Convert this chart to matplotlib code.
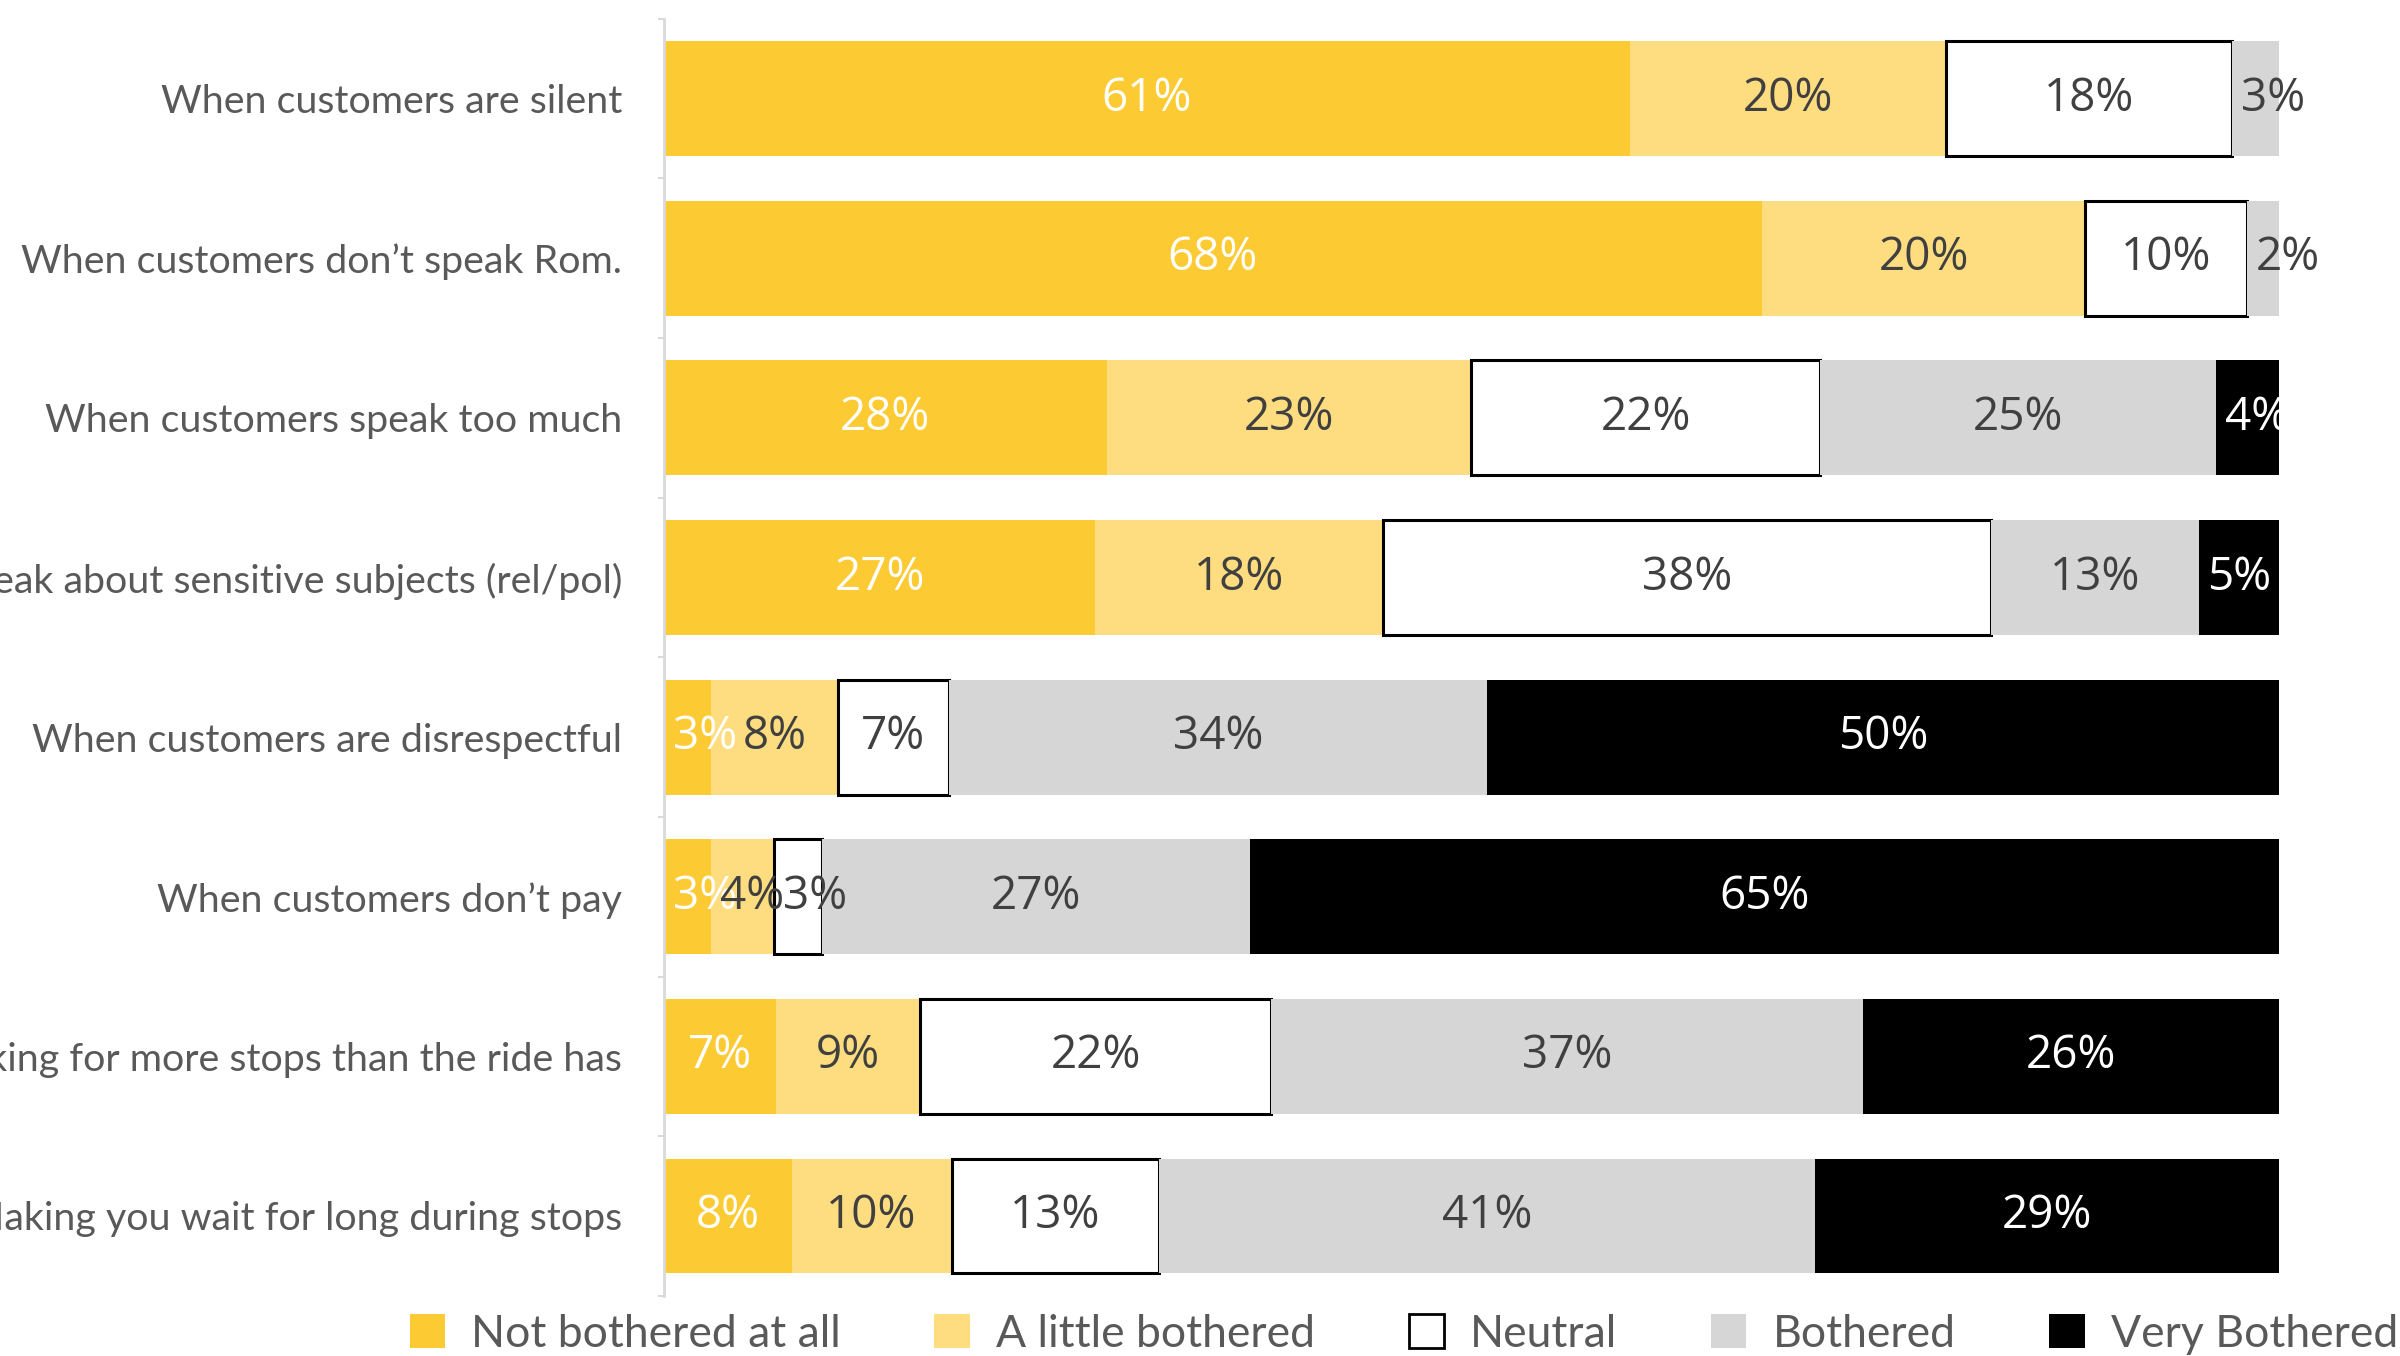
import numpy as np
import matplotlib
matplotlib.use("Agg")
import matplotlib.pyplot as plt
from matplotlib.patches import Patch

# survey results, percent per answer (rows top to bottom)
categories = [
    "When customers are silent",
    "When customers don\u2019t speak Rom.",
    "When customers speak too much",
    "When customers speak about sensitive subjects (rel/pol)",
    "When customers are disrespectful",
    "When customers don\u2019t pay",
    "When customers are asking for more stops than the ride has",
    "When customers are Making you wait for long during stops",
]
answers = ["Not bothered at all", "A little bothered", "Neutral", "Bothered", "Very Bothered"]

not_bothered = [61, 68, 28, 27, 3, 3, 7, 8]
little_bothered = [20, 20, 23, 18, 8, 4, 9, 10]
neutral = [18, 10, 22, 38, 7, 3, 22, 13]
bothered = [3, 2, 25, 13, 34, 27, 37, 41]
very_bothered = [0, 0, 4, 5, 50, 65, 26, 29]

series = [not_bothered, little_bothered, neutral, bothered, very_bothered]
fills = ["#FCCB33", "#FEDD80", "#FFFFFF", "#D6D6D6", "#000000"]
edges = [None, None, "#000000", None, None]
label_colors = ["white", "#404040", "#404040", "#404040", "white"]

LABEL_FONT = "Lato"
NUM_FONT = "Open Sans"

vals = np.array(series, dtype=float)
totals = vals.sum(axis=0)
shares = vals / totals * 100  # 100% stacked

fig = plt.figure(figsize=(24, 13.56), dpi=100)
ax = fig.add_axes([0.2765, 0.0444, 0.9496 - 0.2765, 0.9861 - 0.0444])

y = np.arange(len(categories))
left = np.zeros(len(categories))
value_texts = []
for i, name in enumerate(answers):
    ec = edges[i] if edges[i] else fills[i]
    lw = 2.2 if edges[i] else 0
    ax.barh(y, shares[i], left=left, height=0.72, color=fills[i],
            edgecolor=ec, linewidth=lw, label=name, zorder=2)
    for j in range(len(categories)):
        v = series[i][j]
        if v == 0:
            continue
        t = ax.text(left[j] + shares[i][j] / 2, y[j], f"{v}%", ha="center", va="center",
                    color=label_colors[i], fontsize=33, family=NUM_FONT, zorder=3)
        value_texts.append((t, left[j], shares[i][j]))
    left += shares[i]

ax.set_xlim(0, 100)
ax.set_ylim(len(categories) - 0.5, -0.5)
ax.set_yticks(y)
ax.set_yticklabels(categories, fontsize=28.4, family=LABEL_FONT, color="#595959")
ax.tick_params(axis="y", which="major", length=0, pad=30)
ax.set_yticks(np.arange(len(categories) + 1) - 0.5, minor=True)
ax.tick_params(axis="y", which="minor", length=4, width=1.5, color="#D9D9D9")
ax.set_xticks([])
for s in ["top", "right", "bottom"]:
    ax.spines[s].set_visible(False)
ax.spines["left"].set_color("#D9D9D9")
ax.spines["left"].set_linewidth(2)

# labels wider than their segment start at the segment's left edge instead
renderer = fig.canvas.get_renderer()
px_per_unit = ax.get_window_extent(renderer).width / 100
for t, x0, w in value_texts:
    tw = t.get_window_extent(renderer).width
    if tw > w * px_per_unit:
        t.set_ha("left")
        t.set_x(x0 + 9 / px_per_unit)

handles = [Patch(facecolor=fills[i], edgecolor=(edges[i] or fills[i]), linewidth=2 if edges[i] else 0)
           for i in range(len(answers))]
fig.legend(handles, answers, loc="center left", bbox_to_anchor=(0.154, 0.016), ncol=5,
           frameon=False, handlelength=0.8, handleheight=0.8, handletextpad=0.59,
           columnspacing=2.1, prop={"family": LABEL_FONT, "size": 32}, labelcolor="#595959")

fig.savefig("out.png", dpi=100)
